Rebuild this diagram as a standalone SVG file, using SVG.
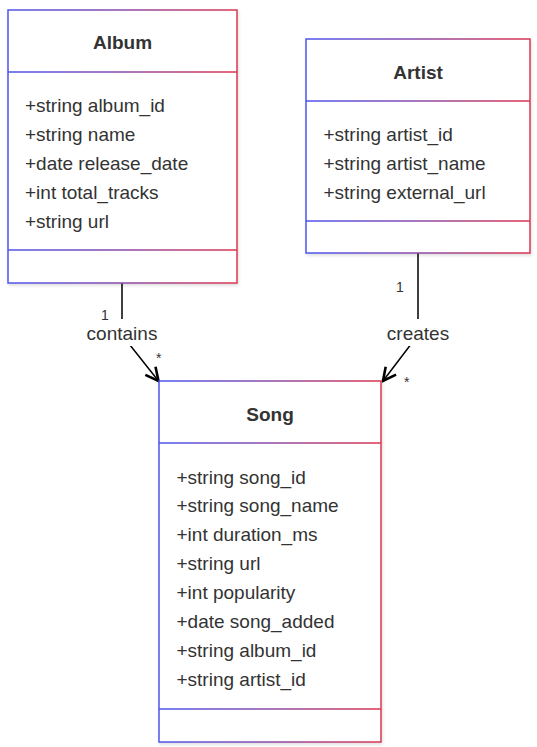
<svg xmlns="http://www.w3.org/2000/svg" width="537" height="747" viewBox="0 0 537 747">
<defs>
<linearGradient id="g" x1="0" y1="0" x2="1" y2="0">
<stop offset="0" stop-color="#4d55ee"/>
<stop offset="0.5" stop-color="#8a4aa8"/>
<stop offset="1" stop-color="#dc3550"/>
</linearGradient>
<filter id="sh" x="-5%" y="-5%" width="115%" height="115%">
<feDropShadow dx="1" dy="2" stdDeviation="1.5" flood-color="#000" flood-opacity="0.12"/>
</filter>
<marker id="arr" markerUnits="userSpaceOnUse" markerWidth="18" markerHeight="18" viewBox="0 0 18 18" refX="16" refY="9" orient="auto">
<path d="M3,2.5 L16,9 L3,15.5" fill="none" stroke="#000" stroke-width="2.6"/>
</marker>
</defs>
<style>
.box{fill:#fff;stroke:url(#g);stroke-width:1.5;filter:url(#sh)}
.div{fill:none;stroke:url(#g);stroke-width:1.5}
.t{font-family:"Liberation Sans",Arial,sans-serif;font-size:19px;fill:#333}
.h{font-family:"Liberation Sans",Arial,sans-serif;font-size:19px;font-weight:bold;fill:#333;text-anchor:middle}
.e{fill:none;stroke:#000;stroke-width:1.5}
.lb{font-family:"Liberation Sans",Arial,sans-serif;font-size:19px;fill:#333;text-anchor:middle}
.m{font-family:"Liberation Sans",Arial,sans-serif;font-size:14px;fill:#333}
</style>
<rect width="537" height="747" fill="#fff"/>
<g id="connectors">
<path class="e" d="M122,283 V335 L158.5,381" marker-end="url(#arr)"/>
<path class="e" d="M418,253 V335 L383,381" marker-end="url(#arr)"/>
<rect x="84" y="319" width="76" height="27" fill="#fff"/>
<rect x="383" y="319" width="70" height="27" fill="#fff"/>
<text class="lb" x="122" y="340">contains</text>
<text class="lb" x="418" y="340">creates</text>
<text class="m" x="101" y="320">1</text>
<text class="m" x="156" y="363">*</text>
<text class="m" x="396" y="292">1</text>
<text class="m" x="404" y="387">*</text>
</g>
<g id="Album">
<rect class="box" x="8" y="10" width="229" height="273"/>
<path class="div" d="M8,72 H237 M8,250 H237"/>
<text class="h" x="122.5" y="49">Album</text>
<text class="t" x="25" y="111.5">+string album_id</text>
<text class="t" x="25" y="140.5">+string name</text>
<text class="t" x="25" y="169.5">+date release_date</text>
<text class="t" x="25" y="198.5">+int total_tracks</text>
<text class="t" x="25" y="227.5">+string url</text>
</g>
<g id="Artist">
<rect class="box" x="306" y="39" width="224" height="214"/>
<path class="div" d="M306,101 H530 M306,221 H530"/>
<text class="h" x="418" y="78.5">Artist</text>
<text class="t" x="323.5" y="141">+string artist_id</text>
<text class="t" x="323.5" y="170">+string artist_name</text>
<text class="t" x="323.5" y="199">+string external_url</text>
</g>
<g id="Song">
<rect class="box" x="159" y="381" width="222" height="361"/>
<path class="div" d="M159,443 H381 M159,709 H381"/>
<text class="h" x="270" y="421">Song</text>
<text class="t" x="176.5" y="483.5">+string song_id</text>
<text class="t" x="176.5" y="512.4">+string song_name</text>
<text class="t" x="176.5" y="541.2">+int duration_ms</text>
<text class="t" x="176.5" y="570.1">+string url</text>
<text class="t" x="176.5" y="598.9">+int popularity</text>
<text class="t" x="176.5" y="627.8">+date song_added</text>
<text class="t" x="176.5" y="656.6">+string album_id</text>
<text class="t" x="176.5" y="685.5">+string artist_id</text>
</g>
</svg>
